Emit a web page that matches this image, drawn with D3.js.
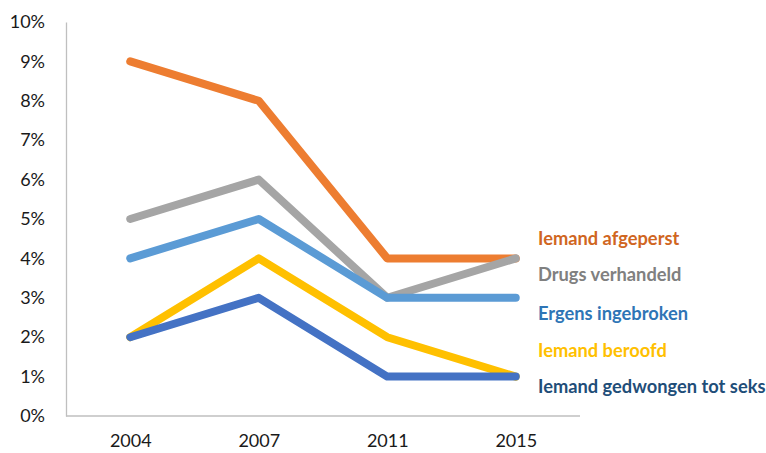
<!DOCTYPE html>
<html>
<head>
<meta charset="utf-8">
<script src="https://cdn.jsdelivr.net/npm/d3@7"></script>
<style>
  body { margin: 0; background: #fff; }
  text { font-family: Lato, "Open Sans", sans-serif; }
</style>
</head>
<body>
<div id="chart"></div>
<script>
// data
var years = ["2004", "2007", "2011", "2015"];
var seriesNames = ["Iemand afgeperst", "Drugs verhandeld", "Ergens ingebroken", "Iemand beroofd", "Iemand gedwongen tot seks"];
var afgeperst = [9, 8, 4, 4];
var drugs = [5, 6, 3, 4];
var ingebroken = [4, 5, 3, 3];
var beroofd = [2, 4, 2, 1];
var gedwongen = [2, 3, 1, 1];
var yTicks = [0, 1, 2, 3, 4, 5, 6, 7, 8, 9, 10];

// styles
var lineColors = ["#ED7D31", "#A5A5A5", "#5B9BD5", "#FFC000", "#4472C4"];
var labelColors = ["#D0661F", "#808080", "#2E75B6", "#FFC000", "#1F4E79"];
var labelAt = [4.5, 3.6, 2.6, 1.65, 0.75]; // label anchor, in % units

var allSeries = [afgeperst, drugs, ingebroken, beroofd, gedwongen];

var W = 766, H = 453;
var x0 = 66, x1 = 580, yTop = 22, yBot = 416;

var svg = d3.select("#chart").append("svg")
  .attr("width", W).attr("height", H);

var x = d3.scalePoint().domain(years).range([x0, x1]).padding(0.5);
var y = d3.scaleLinear().domain([0, 10]).range([yBot, yTop]);

// axes
var yAxis = svg.append("g")
  .attr("transform", "translate(" + x0 + ",0)")
  .call(d3.axisLeft(y).tickValues(yTicks).tickSize(0).tickPadding(21)
    .tickFormat(function(d) { return d + "%"; }));
yAxis.select(".domain").attr("stroke", "#BFBFBF").attr("stroke-width", 1.3);
yAxis.selectAll("text").attr("font-size", 18).attr("fill", "#1a1a1a")
  .attr("font-family", "Lato, sans-serif");

var xAxis = svg.append("g")
  .attr("transform", "translate(0," + yBot + ")")
  .call(d3.axisBottom(x).tickSize(0).tickPadding(18));
xAxis.select(".domain").attr("stroke", "#BFBFBF").attr("stroke-width", 1.3)
  .attr("d", "M" + x0 + ",0H" + x1);
xAxis.selectAll("text").attr("font-size", 18).attr("fill", "#1a1a1a")
  .attr("font-family", "Lato, sans-serif");

var line = d3.line()
  .x(function(d, i) { return x(years[i]); })
  .y(function(d) { return y(d); });

// draw back to front so the dark blue ends on top
for (var i = 0; i < allSeries.length; i++) {
  svg.append("path")
    .attr("d", line(allSeries[i]))
    .attr("fill", "none")
    .attr("stroke", lineColors[i])
    .attr("stroke-width", 8)
    .attr("stroke-linejoin", "round")
    .attr("stroke-linecap", "round");
}

for (var i = 0; i < seriesNames.length; i++) {
  svg.append("text")
    .attr("x", 538)
    .attr("y", y(labelAt[i]))
    .attr("dy", "0.35em")
    .attr("font-size", 18.3)
    .attr("font-weight", "bold")
    .attr("fill", labelColors[i])
    .text(seriesNames[i]);
}
</script>
</body>
</html>
